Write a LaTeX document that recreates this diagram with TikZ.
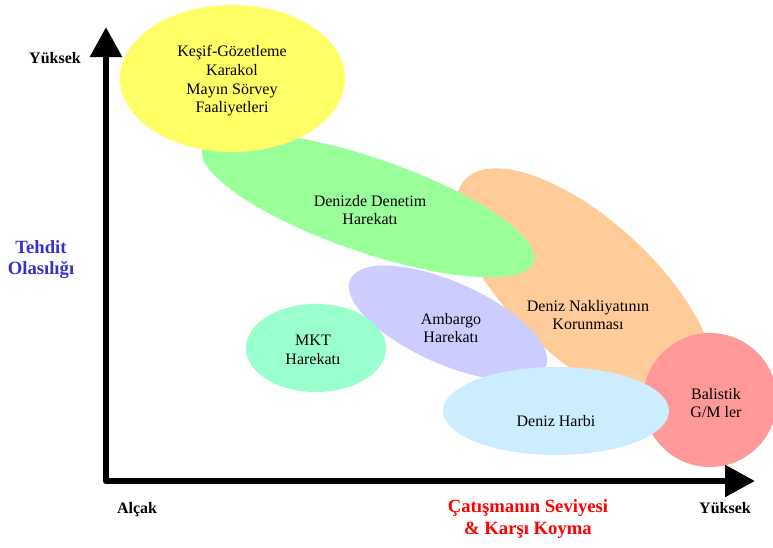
\documentclass[tikz,border=0pt]{standalone}
\usepackage{fontspec}
\setmainfont{Liberation Serif}
\usetikzlibrary{arrows.meta}
\definecolor{sari}{HTML}{FFFF66}
\definecolor{yesil}{HTML}{99FF99}
\definecolor{turuncu}{HTML}{FFCC99}
\definecolor{lila}{HTML}{CCCCFF}
\definecolor{nane}{HTML}{99FFCC}
\definecolor{acikmavi}{HTML}{CCECFF}
\definecolor{pembe}{HTML}{FF9999}
\definecolor{tehditmavi}{HTML}{3333CC}
\definecolor{kirmizi}{HTML}{FF0000}
\begin{document}
\begin{tikzpicture}[line cap=round,line join=round,x=0.75pt,y=-0.75pt,
  etiket/.style={font=\fontsize{12}{14}\selectfont,align=center,inner sep=0pt},
  eksen/.style={font=\fontsize{12}{14}\selectfont\bfseries,anchor=base,inner sep=0pt},
  baslik/.style={font=\fontsize{14}{15.8}\selectfont\bfseries,align=center,inner sep=0pt},
  ucgen/.tip={Triangle[length=22.5pt,width=23pt]}]
\useasboundingbox (0,0) rectangle (773,547);
\fill [turuncu,rotate around={-42.5:(585,290)}] (585,290) ellipse (163 and 70);
\fill [pembe] (710,400) circle (67);
\fill [lila,rotate around={-24:(448,323)}] (448,323) ellipse (107 and 41);
\fill [yesil,rotate around={-19:(368,205)}] (368,205) ellipse (175 and 47);
\fill [sari] (232.5,78.5) ellipse (112.5 and 73.5);
\fill [acikmavi] (556,411) ellipse (113 and 44);
\fill [nane] (316,348) ellipse (70 and 44);
\coordinate (ust) at (106,27);
\coordinate (orijin) at (106,481);
\coordinate (sag) at (755,481);
\draw [line width=4.9pt,ucgen-ucgen] (ust) -- (orijin) -- (sag);
\node[etiket] (kesif) at (232,81) {Keşif-Gözetleme\\Karakol\\Mayın Sörvey\\Faaliyetleri};
\node[etiket] (denetim) at (370,210) {Denizde Denetim\\Harekatı};
\node[etiket] (nakliyat) at (588,315) {Deniz Nakliyatının\\Korunması};
\node[etiket] (ambargo) at (451,328) {Ambargo\\Harekatı};
\node[etiket] (mkt) at (313,350) {MKT\\Harekatı};
\node[etiket] (harbi) at (556,421) {Deniz Harbi};
\node[etiket] (balistik) at (716,403) {Balistik\\G/M ler};
\node[eksen] (yuksekY) at (55,63) {Yüksek};
\node[eksen] (alcak) at (137,513) {Alçak};
\node[eksen] (yuksekX) at (725,513) {Yüksek};
\node[baslik,text=tehditmavi] (tehdit) at (41,260) {Tehdit\\Olasılığı};
\node[baslik,text=kirmizi] (seviye) at (528,519) {Çatışmanın Seviyesi\\\& Karşı Koyma};
\end{tikzpicture}
\end{document}
